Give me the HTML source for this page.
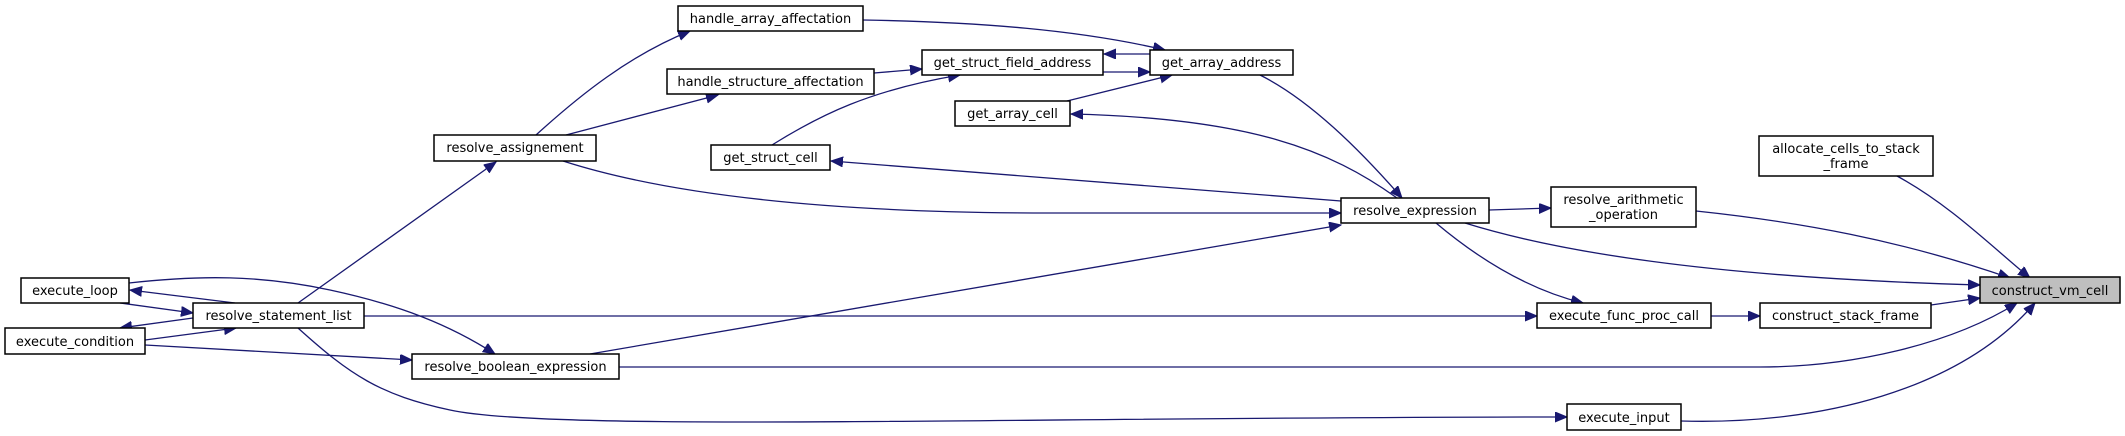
<!DOCTYPE html>
<html><head><meta charset="utf-8"><style>
html,body{margin:0;padding:0;background:#fff;}
svg{display:block;}
text{font-family:"DejaVu Sans","Liberation Sans",sans-serif;font-size:13px;fill:#000;}
.n{fill:#fff;stroke:#000;stroke-width:1.5;}
.e{fill:none;stroke:#191970;stroke-width:1.3;}
</style></head><body>
<svg width="2125" height="436" viewBox="0 0 2125 436" xmlns="http://www.w3.org/2000/svg">
<defs>
<marker id="a" markerUnits="userSpaceOnUse" markerWidth="14" markerHeight="12" refX="12" refY="5" orient="auto">
<path d="M0,0 L12,5 L0,10 z" fill="#191970" stroke="#191970"/>
</marker>
</defs>
<g class="e" marker-end="url(#a)">
<!-- handle_array_affectation -> get_array_address -->
<path d="M863,20 C980,22 1080,30 1165,50"/>
<!-- handle_structure -> get_struct_field -->
<path d="M874,73 L922,69"/>
<!-- gsfa -> gaa -->
<path d="M1103,72 L1150,72"/>
<!-- gaa -> gsfa -->
<path d="M1150,54 L1104,54"/>
<!-- get_array_cell -> gaa -->
<path d="M1067,101 L1172,75"/>
<!-- get_struct_cell -> gsfa -->
<path d="M772,145 C820,115 870,90 960,75"/>
<!-- resolve_assignement -> handle_array -->
<path d="M536,135 C580,95 630,55 690,31"/>
<!-- resolve_assignement -> handle_structure -->
<path d="M566,135 L718,95"/>
<!-- gaa -> resolve_expression -->
<path d="M1260,75 C1310,100 1360,150 1402,198"/>
<!-- resolve_expression -> get_array_cell -->
<path d="M1397,198 C1330,150 1250,118 1071,114"/>
<!-- resolve_expression -> get_struct_cell -->
<path d="M1341,201 L831,161"/>
<!-- resolve_assignement -> resolve_expression -->
<path d="M563,161 C700,205 900,213 1050,213 L1341,213"/>
<!-- resolve_statement_list -> resolve_assignement -->
<path d="M298,303 L496,162"/>
<!-- resolve_boolean -> resolve_expression -->
<path d="M590,354 L1341,225"/>
<!-- resolve_expression -> resolve_arithmetic -->
<path d="M1489,210 L1551,208"/>
<!-- resolve_expression -> construct_vm_cell -->
<path d="M1465,223 C1600,265 1800,280 1980,285"/>
<!-- resolve_arithmetic -> construct_vm_cell -->
<path d="M1696,211 C1800,222 1900,240 2010,278"/>
<!-- allocate -> construct_vm_cell -->
<path d="M1897,176 C1950,205 1990,245 2030,278"/>
<!-- resolve_expression -> execute_func_proc_call -->
<path d="M1436,223 C1480,260 1530,290 1583,303"/>
<!-- resolve_statement_list -> execute_func_proc_call -->
<path d="M364,316 L1537,316"/>
<!-- execute_func_proc_call -> construct_stack_frame -->
<path d="M1711,316 L1760,316"/>
<!-- construct_stack_frame -> construct_vm_cell -->
<path d="M1931,305 L1980,298"/>
<!-- resolve_boolean -> construct_vm_cell -->
<path d="M619,367 L1760,367 C1850,367 1950,345 2017,303"/>
<!-- execute_input -> construct_vm_cell -->
<path d="M1681,421 C1820,425 1960,390 2035,303"/>
<!-- resolve_statement_list -> execute_input -->
<path d="M298,328 C350,375 380,395 450,410 C550,432 1000,417 1567,417"/>
<!-- execute_loop -> resolve_statement_list -->
<path d="M120,303 L193,313"/>
<!-- resolve_statement_list -> execute_loop -->
<path d="M235,303 L130,290"/>
<!-- resolve_statement_list -> execute_condition -->
<path d="M193,318 L120,328"/>
<!-- execute_condition -> resolve_statement_list -->
<path d="M145,340 L236,328"/>
<!-- execute_loop -> resolve_boolean -->
<path d="M129,283 C200,275 260,275 330,290 C400,305 450,325 495,354"/>
<!-- execute_condition -> resolve_boolean -->
<path d="M145,345 L412,360"/>
</g>

<g>
<rect class="n" x="678" y="6" width="185" height="25"/><text x="770.5" y="23" text-anchor="middle">handle_array_affectation</text>
<rect class="n" x="667" y="69" width="207" height="25"/><text x="770.5" y="86" text-anchor="middle">handle_structure_affectation</text>
<rect class="n" x="922" y="50" width="181" height="25"/><text x="1012.5" y="67" text-anchor="middle">get_struct_field_address</text>
<rect class="n" x="1150" y="50" width="143" height="25"/><text x="1221.5" y="67" text-anchor="middle">get_array_address</text>
<rect class="n" x="955" y="101" width="115" height="25"/><text x="1012.5" y="118" text-anchor="middle">get_array_cell</text>
<rect class="n" x="711" y="145" width="119" height="25"/><text x="770.5" y="162" text-anchor="middle">get_struct_cell</text>
<rect class="n" x="434" y="135" width="162" height="26"/><text x="515" y="152" text-anchor="middle">resolve_assignement</text>
<rect class="n" x="1341" y="198" width="148" height="25"/><text x="1415" y="215" text-anchor="middle">resolve_expression</text>
<rect class="n" x="1551" y="187" width="145" height="40"/><text x="1623.5" y="204" text-anchor="middle">resolve_arithmetic</text><text x="1623.5" y="219" text-anchor="middle">_operation</text>
<rect class="n" x="1759" y="136" width="174" height="40"/><text x="1846" y="153" text-anchor="middle">allocate_cells_to_stack</text><text x="1846" y="168" text-anchor="middle">_frame</text>
<rect x="1980" y="277" width="140" height="26" fill="#bfbfbf" stroke="#000" stroke-width="1.5"/><text x="2050" y="295" text-anchor="middle">construct_vm_cell</text>
<rect class="n" x="21" y="278" width="108" height="25"/><text x="75" y="295" text-anchor="middle">execute_loop</text>
<rect class="n" x="193" y="303" width="171" height="25"/><text x="278.5" y="320" text-anchor="middle">resolve_statement_list</text>
<rect class="n" x="5" y="328" width="140" height="26"/><text x="75" y="346" text-anchor="middle">execute_condition</text>
<rect class="n" x="412" y="354" width="207" height="25"/><text x="515.5" y="371" text-anchor="middle">resolve_boolean_expression</text>
<rect class="n" x="1537" y="303" width="174" height="25"/><text x="1624" y="320" text-anchor="middle">execute_func_proc_call</text>
<rect class="n" x="1760" y="303" width="171" height="25"/><text x="1845.5" y="320" text-anchor="middle">construct_stack_frame</text>
<rect class="n" x="1567" y="404" width="114" height="26"/><text x="1624" y="422" text-anchor="middle">execute_input</text>
</g>
</svg>
</body></html>
